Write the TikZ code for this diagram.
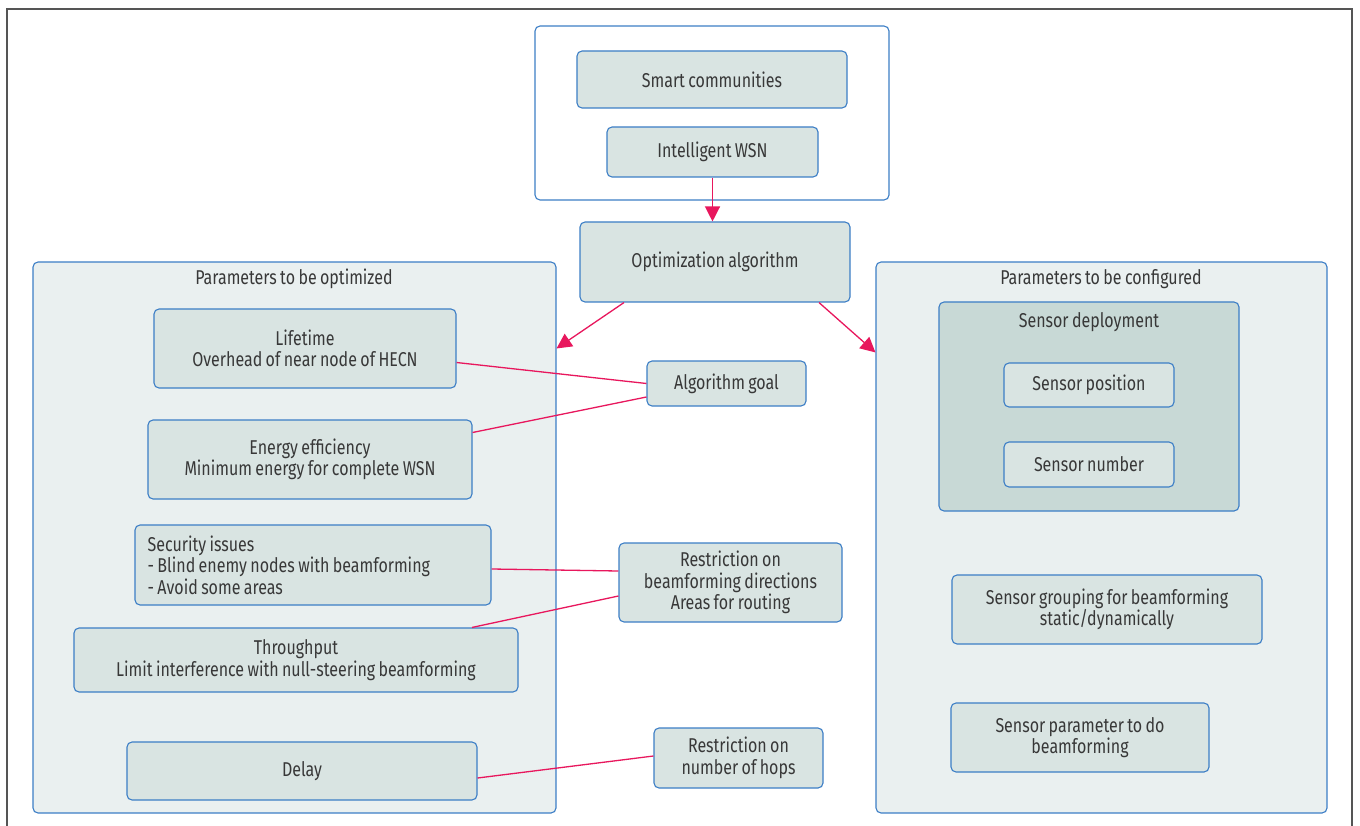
\documentclass[tikz,border=0pt]{standalone}
\usepackage{fontspec}
\setmainfont{Fira Sans}[FakeStretch=0.8, WordSpace=0.8]
\usetikzlibrary{arrows.meta,calc}
\definecolor{bordblue}{HTML}{3C7EC6}
\definecolor{boxfill}{HTML}{D9E4E2}
\definecolor{panelfill}{HTML}{EAF0F0}
\definecolor{deployfill}{HTML}{C8D9D6}
\definecolor{linkred}{HTML}{E8175D}
\definecolor{txt}{HTML}{383838}
\definecolor{framegray}{HTML}{555555}
\begin{document}
\begin{tikzpicture}[x=1pt,y=-1pt,
  every node/.style={font=\fontsize{20}{21.5}\selectfont, text=txt},
  box/.style={draw=bordblue, line width=1.1pt, fill=boxfill, rounded corners=5pt, align=center, inner sep=0pt},
  panel/.style={draw=bordblue, line width=1.1pt, fill=panelfill, rounded corners=5pt, inner sep=0pt},
  container/.style={draw=bordblue, line width=1.1pt, fill=white, rounded corners=5pt, inner sep=0pt},
  deploy/.style={draw=bordblue, line width=1.1pt, fill=deployfill, rounded corners=5pt, inner sep=0pt},
  title/.style={inner sep=0pt},
  link/.style={draw=linkred, line width=1.3pt},
  arr/.style={link, -{Triangle[length=15pt,width=15pt]}}
]
\useasboundingbox (0,0) rectangle (1360,826);
\fill[white] (0,0) rectangle (1360,826);
\draw[framegray, line width=1.6pt] (7,826) -- (7,9) -- (1352,9) -- (1352,826);

% top container
\node[container, minimum width=354pt, minimum height=174pt] (top) at (712,113) {};
\node[box, minimum width=270pt, minimum height=57pt] (smart) at (712,79.5) {Smart communities};
\node[box, minimum width=211pt, minimum height=50pt] (wsn) at (712.5,152) {Intelligent WSN};
\node[box, minimum width=270pt, minimum height=80pt] (opt) at (715,262) {Optimization algorithm};

% left panel
\node[panel, minimum width=523pt, minimum height=551pt] (lp) at (294.5,537.5) {};
\node[title] (lpt) at (294,279) {Parameters to be optimized};
\node[box, minimum width=302pt, minimum height=79pt] (life) at (305,348.5) {Lifetime\\Overhead of near node of HECN};
\node[box, minimum width=324pt, minimum height=79pt] (energy) at (310,459.5) {Energy efficiency\\Minimum energy for complete WSN};
\node[box, minimum width=356pt, minimum height=80pt] (sec) at (313,565) {};
\node[title, anchor=west, align=left] (sectxt) at ([xshift=13pt]sec.west) {Security issues\\- Blind enemy nodes with beamforming\\- Avoid some areas};
\node[box, minimum width=444pt, minimum height=64pt] (thr) at (296,660) {Throughput\\Limit interference with null-steering beamforming};
\node[box, minimum width=350pt, minimum height=58pt] (delay) at (302,771) {Delay};

% middle
\node[box, minimum width=159pt, minimum height=45pt] (goal) at (726.5,383.5) {Algorithm goal};
\node[box, minimum width=223pt, minimum height=79pt] (restr) at (730.5,582.5) {Restriction on\\beamforming directions\\Areas for routing};
\node[box, minimum width=169pt, minimum height=60pt] (hops) at (738.5,758) {Restriction on\\number of hops};

% right panel
\node[panel, minimum width=451pt, minimum height=551pt] (rp) at (1101.5,537.5) {};
\node[title] (rpt) at (1101,279) {Parameters to be configured};
\node[deploy, minimum width=300pt, minimum height=209pt] (dep) at (1089,406.5) {};
\node[title] (dept) at (1089,322) {Sensor deployment};
\node[box, minimum width=170pt, minimum height=44pt] (pos) at (1089,385) {Sensor position};
\node[box, minimum width=170pt, minimum height=45pt] (num) at (1089,464.5) {Sensor number};
\node[box, minimum width=310pt, minimum height=69pt] (grp) at (1107,609.5) {Sensor grouping for beamforming\\static/dynamically};
\node[box, minimum width=258pt, minimum height=69pt] (spar) at (1080,737.5) {Sensor parameter to do\\beamforming};

% arrows
\draw[arr] (wsn.south) -- (opt.north -| wsn.south);
\draw[arr] ([xshift=-91pt]opt.south) -- ([yshift=-87pt]lp.north east);
\draw[arr] ([xshift=104pt]opt.south) -- ([yshift=-91pt]rp.north west);

% links
\draw[link] ([yshift=-14pt]life.east) -- ([yshift=0pt]goal.west);
\draw[link] ([yshift=27pt]energy.east) -- ([yshift=-13.5pt]goal.west);
\draw[link] ([yshift=-4pt]sec.east) -- ([yshift=11.5pt]restr.west);
\draw[link] ([xshift=176pt]thr.north) -- ([yshift=-13.5pt]restr.west);
\draw[link] ([yshift=-7pt]delay.east) -- ([yshift=2pt]hops.west);
\end{tikzpicture}
\end{document}
